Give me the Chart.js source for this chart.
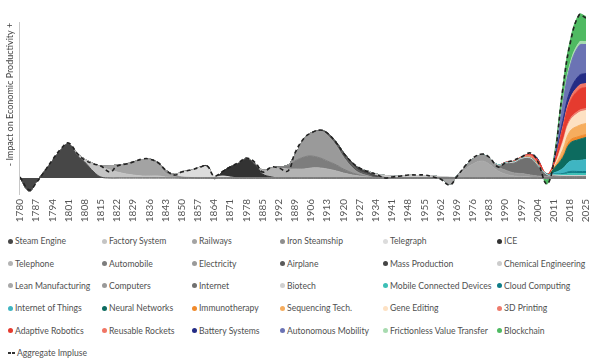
<!DOCTYPE html>
<html>
<head>
<meta charset="utf-8">
<script src="https://cdn.jsdelivr.net/npm/chart.js@4.4.0/dist/chart.umd.min.js"></script>
<style>
  html, body { margin: 0; padding: 0; background: #fff; }
  body { width: 602px; height: 363px; position: relative; overflow: hidden; font-family: Lato, sans-serif; }
  #wrap { position: absolute; left: 0; top: 0; width: 602px; height: 227px; }
  #legend {
    position: absolute; left: 8px; top: 230px;
    display: grid;
    grid-template-columns: 94px 90px 88px 103px 114px auto;
    grid-auto-rows: 22.4px;
    align-items: center;
    font-size: 8.6px; color: #505050;
  }
  .item { display: flex; align-items: center; white-space: nowrap; }
  .dot { width: 5px; height: 5px; border-radius: 50%; margin-right: 2px; flex: none; }
  .dash { width: 7px; height: 1.6px; margin-right: 2px; flex: none;
          background: repeating-linear-gradient(90deg, #333 0 3px, transparent 3px 4.5px); }
</style>
</head>
<body>
<div id="wrap"><canvas id="grafico"></canvas></div>
<div id="legend"></div>
<script>
// Anos da grade de dados (eixo x linear)
const anos = [1780, 1784, 1787, 1791, 1794, 1798, 1801, 1805, 1808, 1812, 1815, 1819, 1822, 1826, 1829,
  1833, 1836, 1840, 1843, 1847, 1850, 1854, 1857, 1861, 1864, 1868, 1871, 1875, 1878, 1882, 1885, 1889,
  1892, 1896, 1899, 1903, 1906, 1910, 1913, 1917, 1920, 1924, 1927, 1931, 1934, 1938, 1941, 1945, 1948,
  1952, 1955, 1959, 1962, 1966, 1969, 1973, 1976, 1980, 1983, 1987, 1990, 1994, 1997, 2001, 2004, 2008,
  2011, 2015, 2018, 2022, 2025];

// Rótulos do eixo x (um a cada 7 anos, como no original)
const rotulosX = ['1780', '1787', '1794', '1801', '1808', '1815', '1822', '1829', '1836', '1843', '1850',
  '1857', '1864', '1871', '1978', '1885', '1992', '1889', '1906', '1913', '1920', '1927', '1934', '1941',
  '1948', '1955', '1962', '1969', '1976', '1983', '1990', '1997', '2004', '2011', '2018', '2025'];

// Séries: valores na grade de anos a partir do ano inicial
const steamEngine = [0, -13, -4, 8, 17, 29, 34, 22, 16, 6, 1, 0];
const factorySystem = [0, 2, 3, 8, 10, 8, 6, 4, 3, 2, 2, 2, 1, 0.5, 0];
const railways = [0, 1, 4, 7, 10, 13, 16, 16, 11, 4, 1, 0];
const ironSteamship = [0, 1, 2, 3, 1.5, 1, 0.5, 0];
const telegraph = [0, 0.5, 5, 7, 10, 11, 2, 2, 1, 0];
const ice = [0, 1, -2.5, 5, 10, 15, 19, 13, 4, 1, 0];
const telephone = [0, 1, 4, 9, 10, 9, 9, 9, 10, 10, 9, 7, 5, 3, 2, 1, 0];
const automobile = [0, 1, 3, 8, 12, 12, 10, 8, 6, 4, 2, 1, 0];
const electricity = [0, 1, 6, 18, 23, 27, 26, 19, 12, 5, 2, 1, 0];
const airplane = [0, 0.5, 1.5, 2.5, 3, 3, 2, 1.5, 1, 0];
const massProduction = [0, 0.5, 1, 1.5, 2, 2.5, 2, 1.5, 0.5, 0];
const chemicalEngineering = [0, 1, 1.5, 2, 2, 2, 2.5, 2.5, 2.5, 2, 1.5, 1, 0.5, 0];
const leanManufacturing = [0, 0, -1, -7, 1, 9, 14, 17, 14, 7, 4, 2, 1.5, 1, 0];
const computers = [0, 0.5, 3, 5, 6, 6, 4, 4, 3, 3, 2, 2, 1.5, 1, 1, 1, 1, 1];
const internet = [0, 1, 6, 10, 14, 16, 10, 1, 1, 0.5, 0.5, 0.5, 0.5];
const biotech = [0, 0.5, 1, 1, 1, 1, 1, 1, 1, 1, 1, 1, 1, 1];
const mobileDevices = [0, 0, 0, 0, 0, 0, 0.5, 1, 2, 2, 2];
const cloudComputing = [0, 0, 0, 0, 0, 0.5, 0.5, 1, 2, 2, 2];
const internetOfThings = [0, 0, 0, 0, 0, 0, 1, 5, 10, 11, 12];
const neuralNetworks = [0, 0, 0, 0, 0, -2, 4, 11, 18, 21, 22];
const immunotherapy = [0, 0, 0, 0.5, 0.5, 0, 0.5, 2, 3, 3, 3];
const sequencingTech = [0, 0, 0, 0, 0, 0, 0.5, 6, 9, 11, 11];
const geneEditing = [0, 0, 0, 0, 0, 0, 0.5, 7, 10, 13, 13];
const printing3d = [0.5, 1, 1.5, 2, 2, 0.5, 0.5, 2, 2, 2, 2];
const adaptiveRobotics = [0, 0, 0, 1, 3, 1.5, 3, 12, 17, 21, 21];
const reusableRockets = [0, 0, 0, 0, 0, 0, 0.5, 2, 3, 4, 4];
const batterySystems = [0, 0, 0, 0, 1, -3, 1, 6, 8, 10, 10];
const autonomousMobility = [0, 0, 0, 0, 0, -2, 1, 17, 24, 30, 29];
const frictionlessValue = [0, 0, 0, 0, 0, 0, 0.5, 2, 3, 3, 3];
const blockchain = [0, 0, 0, 0, 0, -5, 2, 15, 22, 28, 25];

// Linha tracejada (impulso agregado)
const agregado = [1, -12, -5, 8, 18, 30, 35, 24, 18, 14, 12, 6, 12, 14, 16, 19, 19, 15, 8, 3, 6, 8, 10, 12,
  2, 7, 11, 16, 20, 15, 6, 11, 10, 7, 25, 40, 45, 48, 45, 35, 25, 15, 10, 6, 4, 0, 1, 2, 3, 3, 3, 1, -1,
  -7, 1, 13, 20, 24, 21, 11, 15, 18, 21, 25, 17, -6, 15, 90, 133, 163, 160];

const nomes = ['Steam Engine', 'Factory System', 'Railways', 'Iron Steamship', 'Telegraph', 'ICE',
  'Telephone', 'Automobile', 'Electricity', 'Airplane', 'Mass Production', 'Chemical Engineering',
  'Lean Manufacturing', 'Computers', 'Internet', 'Biotech', 'Mobile Connected Devices', 'Cloud Computing',
  'Internet of Things', 'Neural Networks', 'Immunotherapy', 'Sequencing Tech.', 'Gene Editing', '3D Printing',
  'Adaptive Robotics', 'Reusable Rockets', 'Battery Systems', 'Autonomous Mobility',
  'Frictionless Value Transfer', 'Blockchain'];

const inicios = [1780, 1801, 1812, 1833, 1843, 1857, 1878, 1889, 1892, 1906, 1910, 1927, 1955, 1966, 1983,
  1980, 1990, 1990, 1990, 1990, 1990, 1990, 1990, 1990, 1990, 1990, 1990, 1990, 1990, 1990];

const valores = [steamEngine, factorySystem, railways, ironSteamship, telegraph, ice, telephone, automobile,
  electricity, airplane, massProduction, chemicalEngineering, leanManufacturing, computers, internet, biotech,
  mobileDevices, cloudComputing, internetOfThings, neuralNetworks, immunotherapy, sequencingTech, geneEditing,
  printing3d, adaptiveRobotics, reusableRockets, batterySystems, autonomousMobility, frictionlessValue, blockchain];

const cores = ['#474747', '#c4c4c4', '#a3a3a3', '#8e8e8e', '#dcdcdc', '#333333', '#b3b3b3', '#7d7d7d',
  '#9a9a9a', '#5a5a5a', '#454545', '#cccccc', '#a8a8a8', '#999999', '#707070', '#d0d0d0', '#3cbfb6',
  '#0e7d88', '#3fb5c2', '#0d6b5f', '#f08a2c', '#f6ad5e', '#fde1c3', '#ee7b6c', '#e53b2f', '#f07565',
  '#242c85', '#6b73b4', '#a8dbb0', '#4fba62'];

const topoEixoY = 156; // onde a linha do eixo y começa

// Monta a série completa na grade de anos (zero fora do período da tecnologia)
function montarSerie(inicio, vals) {
  const i0 = anos.indexOf(inicio);
  return anos.map((ano, k) => ({ x: ano, y: (k >= i0 && k - i0 < vals.length) ? vals[k - i0] : 0 }));
}

const datasets = nomes.map((nome, i) => ({
  label: nome,
  data: montarSerie(inicios[i], valores[i]),
  backgroundColor: cores[i],
  borderColor: cores[i],
  borderWidth: 1,
  fill: i === 0 ? 'origin' : '-1',
  pointRadius: 0,
  tension: 0.4,
  stack: 'ondas',
  order: 1
}));

datasets.push({
  label: 'Aggregate Impluse',
  data: agregado.map((v, k) => ({ x: anos[k], y: v })),
  borderColor: '#222',
  borderWidth: 1.6,
  borderDash: [4, 3],
  fill: false,
  pointRadius: 0,
  tension: 0.4,
  stack: 'agregado',
  order: 0
});

// Linha do eixo y (começa abaixo do topo da área do gráfico)
const linhaEixoY = {
  id: 'linhaEixoY',
  beforeDatasetsDraw(chart) {
    const { ctx, chartArea, scales } = chart;
    ctx.save();
    ctx.strokeStyle = '#c8c8c8';
    ctx.lineWidth = 1;
    ctx.beginPath();
    ctx.moveTo(chartArea.left - 0.5, scales.y.getPixelForValue(topoEixoY));
    ctx.lineTo(chartArea.left - 0.5, chartArea.bottom);
    ctx.stroke();
    ctx.restore();
  }
};

new Chart(document.getElementById('grafico').getContext('2d'), {
  type: 'line',
  data: { datasets: datasets },
  options: {
    responsive: true,
    maintainAspectRatio: false,
    animation: false,
    layout: { padding: { top: 12, right: 12, left: 0, bottom: 0 } },
    plugins: { legend: { display: false }, tooltip: { enabled: false } },
    scales: {
      x: {
        type: 'linear',
        min: 1780,
        max: 2025,
        grid: { display: false, drawTicks: false },
        border: { display: false },
        ticks: {
          stepSize: 7,
          autoSkip: false,
          minRotation: 90,
          maxRotation: 90,
          padding: 4,
          color: '#555',
          font: { family: 'Lato', size: 10 },
          callback: v => rotulosX[Math.round((v - 1780) / 7)] ?? ''
        },
        afterFit: s => { s.height = 32; }
      },
      y: {
        stacked: 'single',
        min: -17,
        max: 166,
        grid: { display: false },
        border: { display: false },
        ticks: { display: false },
        title: {
          display: true,
          text: '\u2003\u2003\u2002- Impact on Economic Productivity +',
          color: '#444',
          font: { family: 'Lato', size: 9 },
          padding: { top: 5, bottom: 0 }
        },
        afterFit: s => { s.width = 20; }
      }
    }
  },
  plugins: [linhaEixoY]
});

// Legenda em HTML, alinhada em colunas
const legenda = document.getElementById('legend');
nomes.forEach((nome, i) => {
  legenda.innerHTML += `<div class="item"><span class="dot" style="background:${cores[i]}"></span>${nome}</div>`;
});
legenda.innerHTML += '<div class="item"><span class="dash"></span>Aggregate Impluse</div>';
</script>
</body>
</html>
